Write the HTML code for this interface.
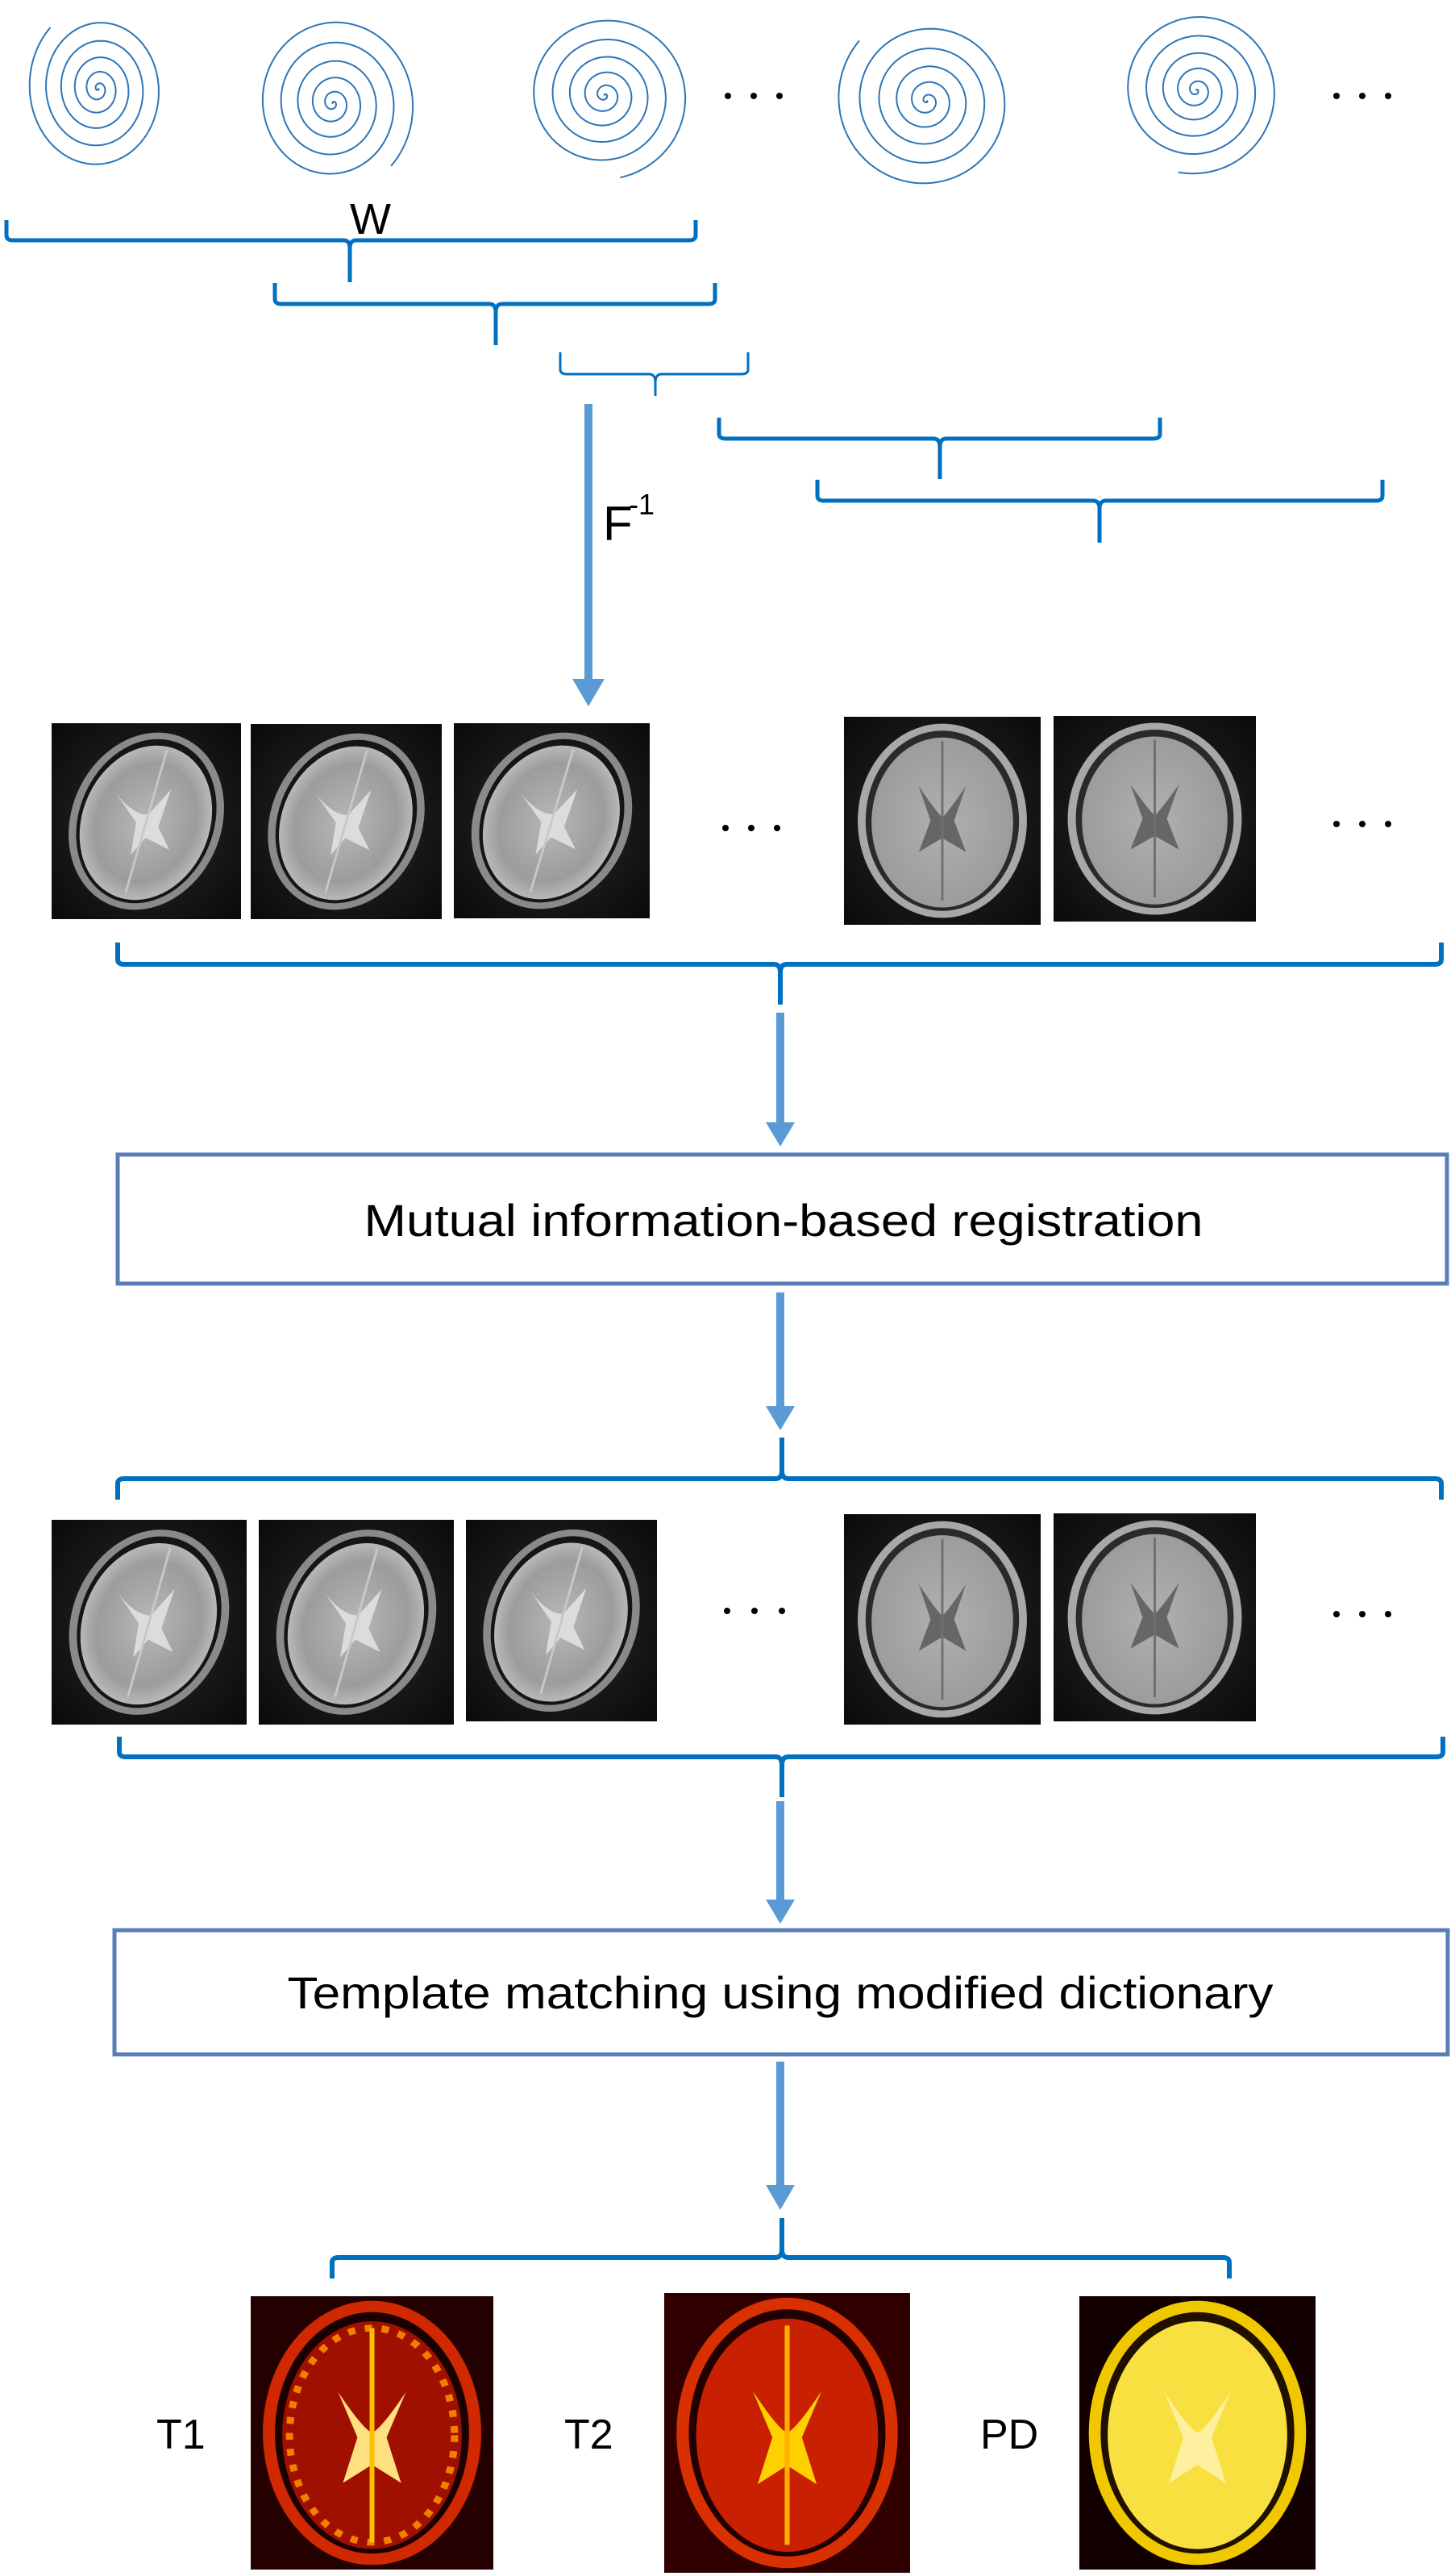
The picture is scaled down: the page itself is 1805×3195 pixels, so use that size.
<!DOCTYPE html>
<html><head><meta charset="utf-8"><style>
html,body{margin:0;padding:0;background:#fff;}
svg{display:block;}
</style></head><body>
<svg id="s" width="1805" height="3195" viewBox="0 0 1805 3195" xmlns="http://www.w3.org/2000/svg">
<defs>
<radialGradient id="gT2" cx="50%" cy="50%" r="55%"><stop offset="0" stop-color="#b8b8b8"/><stop offset="0.7" stop-color="#9c9c9c"/><stop offset="1" stop-color="#c4c4c4"/></radialGradient>
<radialGradient id="gT1" cx="50%" cy="50%" r="55%"><stop offset="0" stop-color="#b0b0b0"/><stop offset="1" stop-color="#9a9a9a"/></radialGradient>
<radialGradient id="bg" cx="50%" cy="50%" r="70%"><stop offset="0.5" stop-color="#1a1a1a"/><stop offset="1" stop-color="#0a0a0a"/></radialGradient>
<symbol id="bA" viewBox="0 0 100 120" preserveAspectRatio="none">
<rect width="100" height="120" fill="url(#bg)"/>
<g transform="rotate(14 50 60)">
<ellipse cx="50" cy="60" rx="40" ry="55" fill="#8a8a8a"/>
<ellipse cx="50" cy="60" rx="36" ry="51" fill="#151515"/>
<ellipse cx="50" cy="61" rx="34" ry="48" fill="url(#gT2)"/>
<path d="M30 47 Q42 58 50 56 L58 38 L57 62 L66 74 L52 70 L47 82 L45 62 Z" fill="#dcdcdc"/>
<path d="M50 15 L50 105" stroke="#c8c8c8" stroke-width="1.2"/>
</g></symbol>
<symbol id="bB" viewBox="0 0 100 120" preserveAspectRatio="none">
<rect width="100" height="120" fill="url(#bg)"/>
<ellipse cx="50" cy="60" rx="43" ry="56" fill="#a8a8a8"/>
<ellipse cx="50" cy="60" rx="39" ry="52" fill="#2a2a2a"/>
<ellipse cx="50" cy="61" rx="36" ry="49" fill="url(#gT1)"/>
<path d="M38 40 Q47 55 50 58 Q53 55 62 40 L56 60 L62 78 L50 70 L38 78 L44 60 Z" fill="#666"/>
<path d="M50 14 L50 106" stroke="#707070" stroke-width="1.2"/>
</symbol>
<symbol id="cT1" viewBox="0 0 100 120" preserveAspectRatio="none">
<rect width="100" height="120" fill="#250000"/>
<ellipse cx="50" cy="60" rx="45" ry="58" fill="#d02800"/>
<ellipse cx="50" cy="60" rx="40" ry="53" fill="#1a0000"/>
<ellipse cx="50" cy="61" rx="37" ry="50" fill="#a01000"/>
<ellipse cx="50" cy="61" rx="34" ry="47" fill="none" stroke="#f08000" stroke-width="3" stroke-dasharray="3 4"/>
<path d="M36 42 Q46 58 50 60 Q54 58 64 42 L56 62 L62 82 L50 74 L38 82 L44 62 Z" fill="#ffe080"/>
<path d="M50 14 L50 108" stroke="#ffc000" stroke-width="2"/>
</symbol>
<symbol id="cT2" viewBox="0 0 100 120" preserveAspectRatio="none">
<rect width="100" height="120" fill="#300000"/>
<ellipse cx="50" cy="60" rx="45" ry="58" fill="#d83000"/>
<ellipse cx="50" cy="60" rx="40" ry="53" fill="#200000"/>
<ellipse cx="50" cy="61" rx="37" ry="50" fill="#c82000"/>
<path d="M36 42 Q46 58 50 60 Q54 58 64 42 L56 62 L62 82 L50 74 L38 82 L44 62 Z" fill="#ffd000"/>
<path d="M50 14 L50 108" stroke="#ffb000" stroke-width="2"/>
</symbol>
<symbol id="cPD" viewBox="0 0 100 120" preserveAspectRatio="none">
<rect width="100" height="120" fill="#120000"/>
<ellipse cx="50" cy="60" rx="46" ry="58" fill="#f0c800"/>
<ellipse cx="50" cy="60" rx="41" ry="53" fill="#201000"/>
<ellipse cx="50" cy="61" rx="38" ry="50" fill="#f8e040"/>
<path d="M36 42 Q46 58 50 60 Q54 58 64 42 L56 62 L62 82 L50 74 L38 82 L44 62 Z" fill="#fff0a0"/>
</symbol>
</defs>
<g id="spirals" fill="none" stroke="#2e75b6" stroke-width="2"></g>
<g fill="#000">
<circle cx="903" cy="119" r="4"/><circle cx="935" cy="119" r="4"/><circle cx="967" cy="119" r="4"/>
<circle cx="1658" cy="119" r="4"/><circle cx="1690" cy="119" r="4"/><circle cx="1722" cy="119" r="4"/>
<circle cx="900" cy="1027" r="4"/><circle cx="932" cy="1027" r="4"/><circle cx="964" cy="1027" r="4"/>
<circle cx="1658" cy="1022" r="4"/><circle cx="1690" cy="1022" r="4"/><circle cx="1722" cy="1022" r="4"/>
<circle cx="902" cy="1998" r="4"/><circle cx="936" cy="1998" r="4"/><circle cx="970" cy="1998" r="4"/>
<circle cx="1658" cy="2002" r="4"/><circle cx="1690" cy="2002" r="4"/><circle cx="1722" cy="2002" r="4"/>
</g>
<g id="braces" fill="none" stroke="#0070c0" stroke-width="5"></g>
<text x="434" y="290" font-family="Liberation Sans, sans-serif" font-size="54" fill="#000">W</text>
<text x="748" y="670" font-family="Liberation Sans, sans-serif" font-size="60" fill="#000">F</text>
<text x="780" y="638" font-family="Liberation Sans, sans-serif" font-size="36" fill="#000">-1</text>
<g fill="#5b9bd5" stroke="none">
<rect x="725" y="501" width="10" height="350"/><polygon points="710,842 750,842 730,876"/>
<rect x="963" y="1256" width="10" height="140"/><polygon points="950,1392 986,1392 968,1422"/>
<rect x="963" y="1603" width="10" height="145"/><polygon points="950,1744 986,1744 968,1774"/>
<rect x="963" y="2234" width="10" height="126"/><polygon points="950,2356 986,2356 968,2386"/>
<rect x="963" y="2557" width="10" height="157"/><polygon points="950,2710 986,2710 968,2741"/>
</g>
<rect x="146" y="1432" width="1649" height="160" fill="#fff" stroke="#5a7fb8" stroke-width="5"/>
<text x="972" y="1533" text-anchor="middle" font-family="Liberation Sans, sans-serif" font-size="56" textLength="1041" lengthAdjust="spacingAndGlyphs" fill="#000">Mutual information-based registration</text>
<rect x="142" y="2394" width="1654" height="154" fill="#fff" stroke="#5a7fb8" stroke-width="5"/>
<text x="968" y="2491" text-anchor="middle" font-family="Liberation Sans, sans-serif" font-size="56" textLength="1223" lengthAdjust="spacingAndGlyphs" fill="#000">Template matching using modified dictionary</text>
<use href="#bA" x="64" y="897" width="235" height="243"/>
<use href="#bA" x="311" y="898" width="237" height="242"/>
<use href="#bA" x="563" y="897" width="243" height="242"/>
<use href="#bB" x="1047" y="889" width="244" height="258"/>
<use href="#bB" x="1307" y="888" width="251" height="255"/>
<use href="#bA" x="64" y="1885" width="242" height="254"/>
<use href="#bA" x="321" y="1885" width="242" height="254"/>
<use href="#bA" x="578" y="1885" width="237" height="250"/>
<use href="#bB" x="1047" y="1878" width="244" height="261"/>
<use href="#bB" x="1307" y="1877" width="251" height="258"/>
<use href="#cT1" x="311" y="2848" width="301" height="339"/>
<use href="#cT2" x="824" y="2844" width="305" height="347"/>
<use href="#cPD" x="1339" y="2848" width="293" height="339"/>
<g font-family="Liberation Sans, sans-serif" font-size="52" fill="#000">
<text x="194" y="3037">T1</text><text x="700" y="3037">T2</text><text x="1216" y="3037">PD</text>
</g>
</svg>
<script>
var NS="http://www.w3.org/2000/svg";
/* cx, cy, rx, ry, phase */
var sp=[[122,110,100,103,0.2],[413,128,116,110,3.3],[750,118,120,104,3.9],[1150,125,128,112,0.1],[1484,112,118,104,4.3]];
var g=document.getElementById("spirals");
sp.forEach(function(s){
  var d="",T=2*Math.PI*5.6;
  for(var i=0;i<=900;i++){
    var t=T*i/900,f=Math.pow(t/T,1.35);
    var a=t+s[4];
    var x=s[0]+s[2]*f*Math.cos(a)*0.88,y=s[1]+s[3]*f*Math.sin(a);
    d+=(i?"L":"M")+x.toFixed(1)+" "+y.toFixed(1);
  }
  var p=document.createElementNS(NS,"path");p.setAttribute("d",d);g.appendChild(p);
});
var b=document.getElementById("braces");
function brace(x1,x2,xm,top,bar,tip,w){
  var dir=tip>bar?1:-1;
  var d="M"+x1+" "+top+" L"+x1+" "+(bar-dir*6)+" Q"+x1+" "+bar+" "+(x1+8)+" "+bar+" L"+(xm-8)+" "+bar+" Q"+xm+" "+bar+" "+xm+" "+(bar+dir*10)+" L"+xm+" "+tip+
  " M"+xm+" "+(bar+dir*10)+" Q"+xm+" "+bar+" "+(xm+8)+" "+bar+" L"+(x2-8)+" "+bar+" Q"+x2+" "+bar+" "+x2+" "+(bar-dir*6)+" L"+x2+" "+top;
  var p=document.createElementNS(NS,"path");p.setAttribute("d",d);if(w)p.setAttribute("stroke-width",w);b.appendChild(p);
}
brace(8,863,434,273,298,350);
brace(341,887,615,351,377,428);
brace(695,928,813,437,464,491,3);
brace(892,1439,1166,518,544,594);
brace(1014,1715,1364,595,621,673);
brace(146,1788,968,1169,1196,1246,6);
brace(146,1788,970,1860,1834,1783,6);
brace(148,1790,970,2154,2179,2229,6);
brace(412,1525,970,2826,2800,2751,6);
</script>
</body></html>
